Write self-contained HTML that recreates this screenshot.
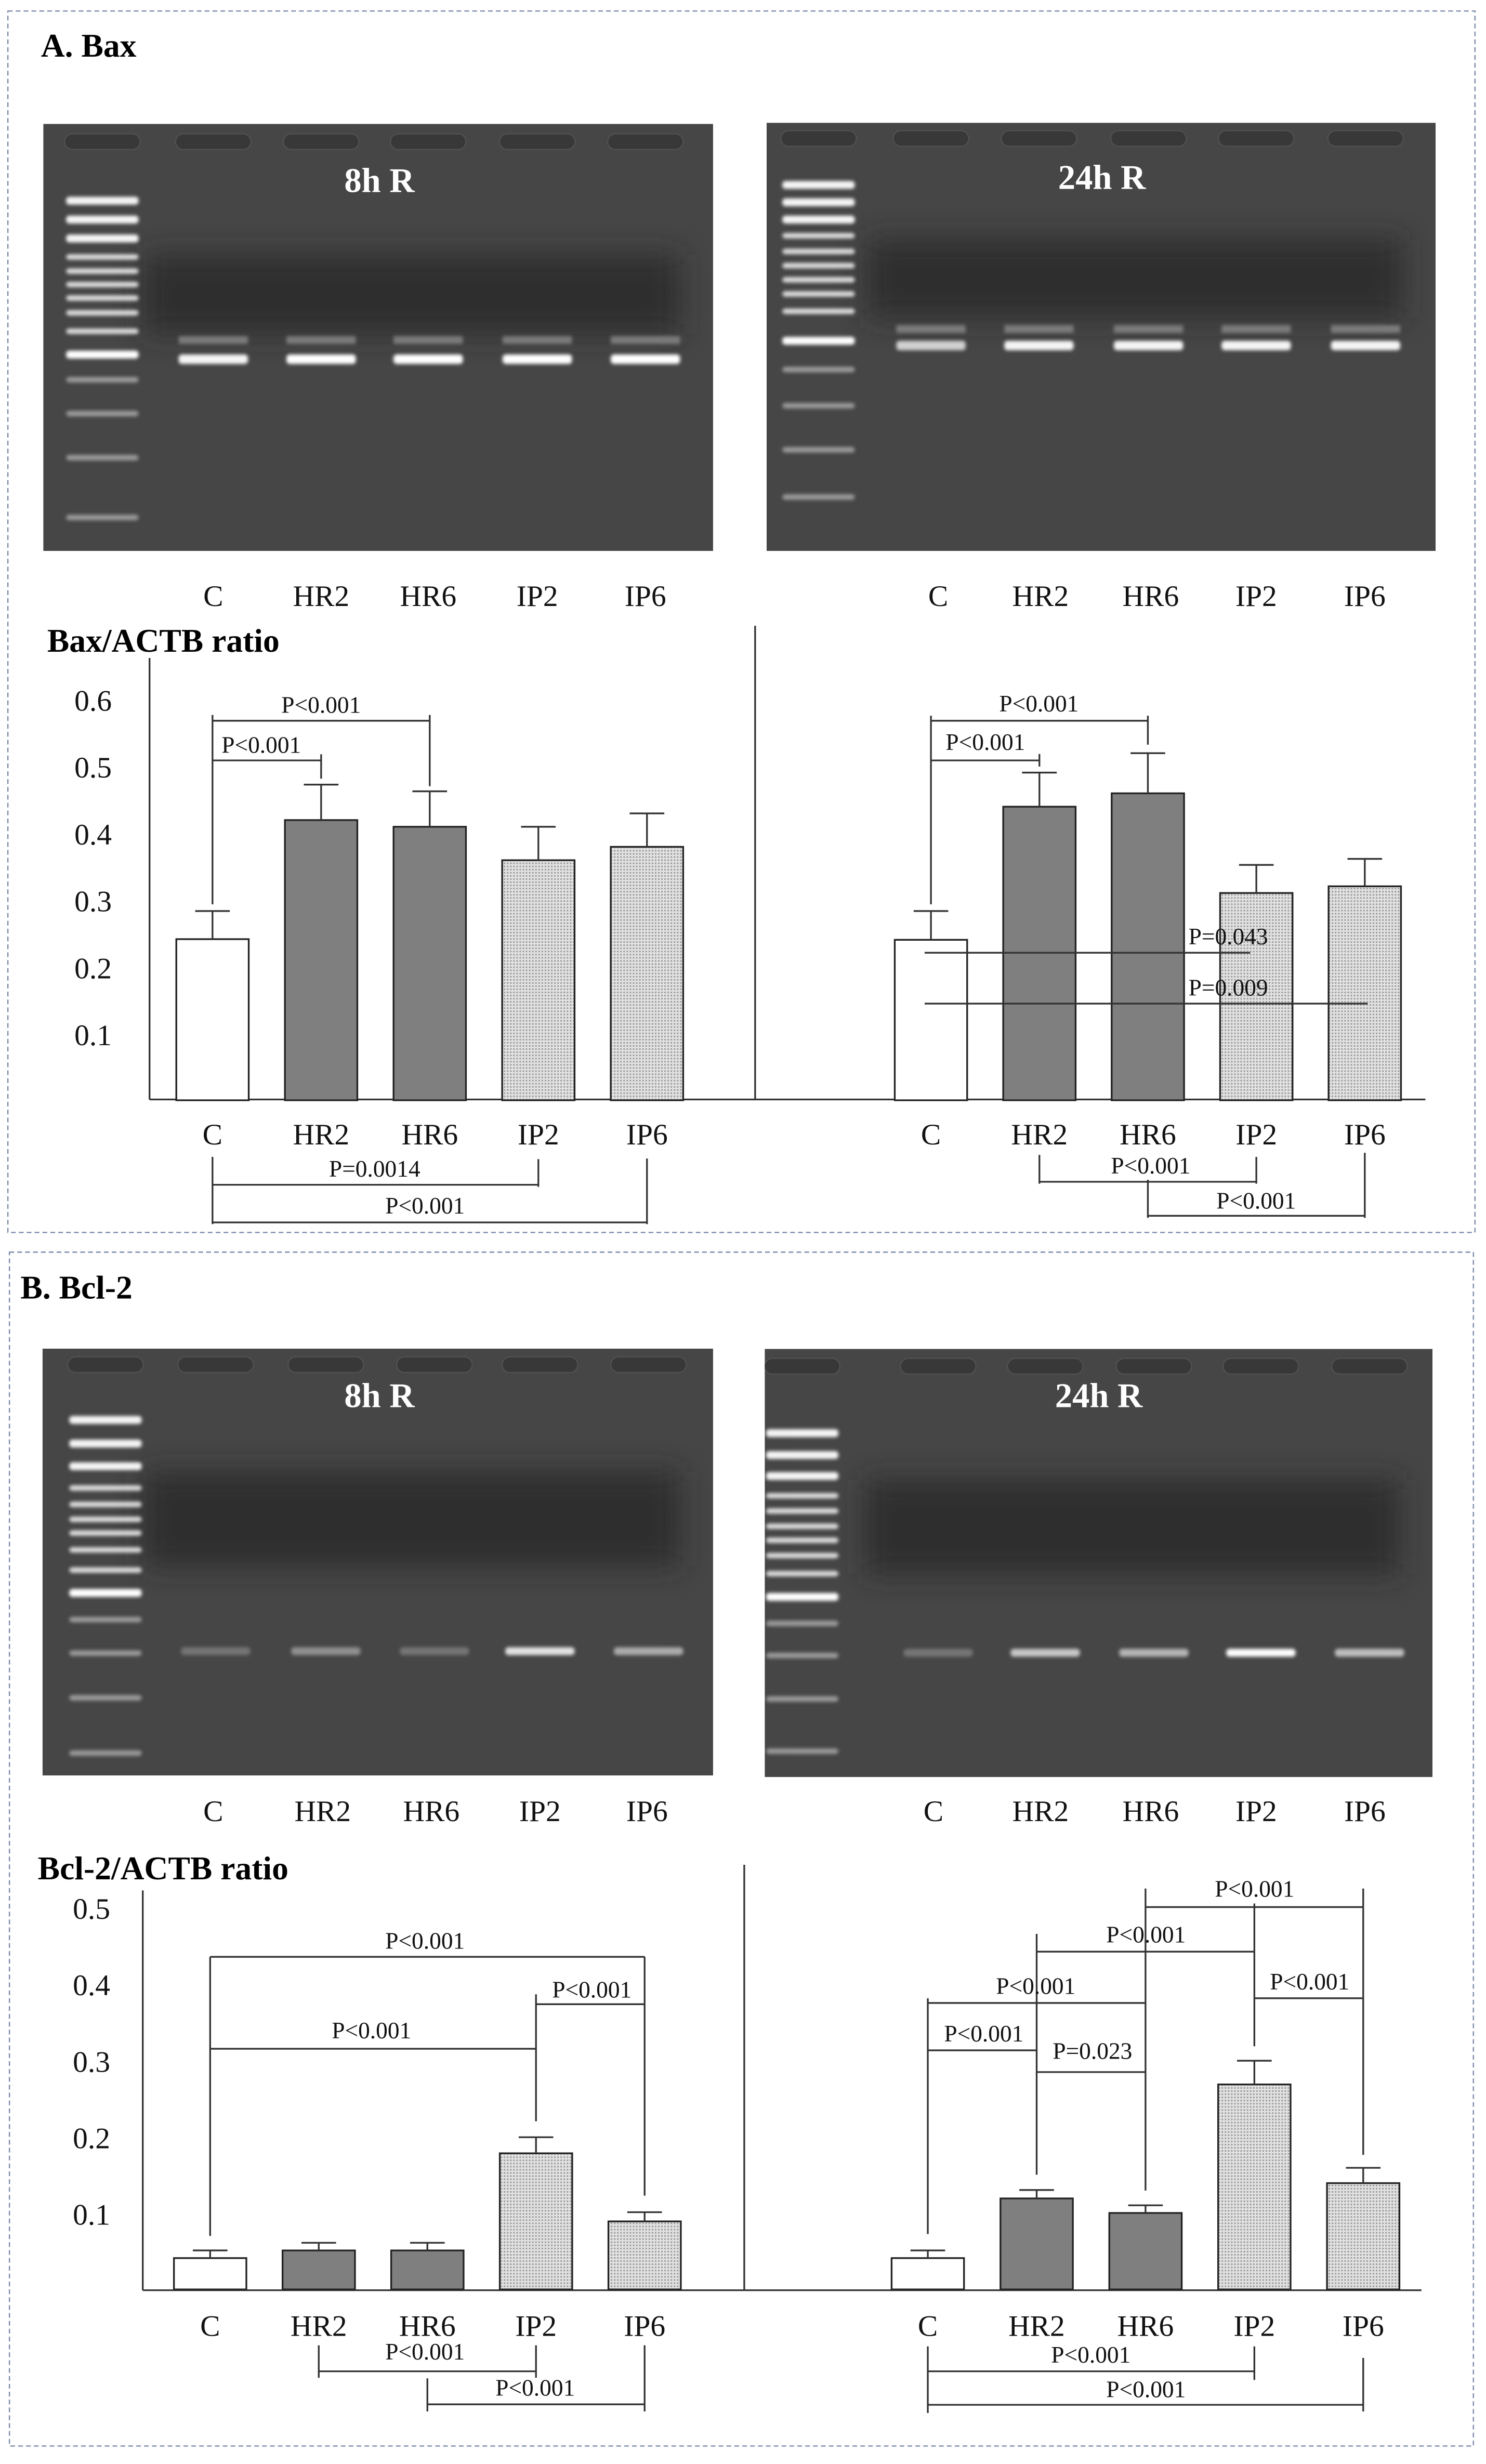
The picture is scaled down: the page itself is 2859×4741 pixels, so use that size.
<!DOCTYPE html>
<html><head><meta charset="utf-8">
<style>
html,body{margin:0;padding:0;background:#fff;}
svg{display:block;}
text{font-family:"Liberation Serif","Times New Roman",serif;}
</style></head>
<body>
<svg id="fig" xmlns="http://www.w3.org/2000/svg" width="2859" height="4741" viewBox="0 0 944 1565.4" preserveAspectRatio="none" font-family="Liberation Serif, serif">
<defs>
<filter id="blur1" x="-20%" y="-100%" width="140%" height="300%"><feGaussianBlur stdDeviation="1.1"/></filter>
<filter id="blur8" x="-20%" y="-50%" width="140%" height="200%"><feGaussianBlur stdDeviation="9"/></filter>
<pattern id="dots" width="2" height="2" patternUnits="userSpaceOnUse"><rect width="2" height="2" fill="#e2e2e2"/><rect width="1" height="1" fill="#9a9a9a"/></pattern>
</defs>
<rect x="0" y="0" width="944" height="1565.4" fill="#fff"/>
<rect x="5" y="7" width="932" height="776" fill="none" stroke="#7d8cab" stroke-width="0.8" stroke-dasharray="3,2"/>
<rect x="6" y="795.5" width="930" height="758.5" fill="none" stroke="#7d8cab" stroke-width="0.8" stroke-dasharray="3,2"/>
<text x="26" y="36" font-size="21" font-weight="bold" font-family="Liberation Serif, serif">A. Bax</text>
<text x="13" y="825" font-size="21" font-weight="bold" font-family="Liberation Serif, serif">B. Bcl-2</text>
<text x="30" y="414" font-size="21" font-weight="bold" font-family="Liberation Serif, serif">Bax/ACTB ratio</text>
<text x="24" y="1194" font-size="21" font-weight="bold" font-family="Liberation Serif, serif">Bcl-2/ACTB ratio</text>
<g id="gels"></g>
<g id="charts"></g>
</svg>
<script>
// ---------- chart data ----------
const categories = ["C","HR2","HR6","IP2","IP6"];
const baxTicks = [0.1,0.2,0.3,0.4,0.5,0.6];
const bclTicks = [0.1,0.2,0.3,0.4,0.5];
const bax8Values = [0.242,0.42,0.41,0.36,0.38];
const bax8Errors = [0.284,0.473,0.463,0.41,0.43];
const bax24Values = [0.241,0.44,0.46,0.311,0.321];
const bax24Errors = [0.284,0.491,0.52,0.353,0.362];
const bcl8Values = [0.042,0.052,0.052,0.179,0.09];
const bcl8Errors = [0.052,0.062,0.062,0.20,0.102];
const bcl24Values = [0.042,0.12,0.101,0.269,0.14];
const bcl24Errors = [0.052,0.131,0.111,0.30,0.16];

const NS="http://www.w3.org/2000/svg";
const fig=document.getElementById('fig');
const charts=document.getElementById('charts');
const gels=document.getElementById('gels');
const defs=fig.querySelector('defs');
function mk(tag,attrs,parent){const e=document.createElementNS(NS,tag);for(const k in attrs)e.setAttribute(k,attrs[k]);(parent||charts).appendChild(e);return e;}

const fills=["#ffffff","#7f7f7f","#7f7f7f","url(#dots)","url(#dots)"];

function yA(v){return 699.5-425*v;}
function yB(v){return 1455-486*v;}
function xAL(i){return 135+69*i;}
function xAR(i){return 591.4+68.9*i;}
function xBL(i){return 133.5+69*i;}
function xBR(i){return 589.4+69.15*i;}

function line(x1,y1,x2,y2,name){
  const l=mk('line',{x1:x1,y1:y1,x2:x2,y2:y2,stroke:'#333','stroke-width':1.1});
  
  
  return l;
}
function txt(x,y,s,size,name,anchor){
  const t=mk('text',{x:x,y:y,'font-size':size,'text-anchor':anchor||'middle',fill:'#111','font-family':'Liberation Serif, serif'});
  t.textContent=s;
  
  
  return t;
}
function bars(vals,errs,xf,yf,prefix){
  vals.forEach((v,i)=>{
    const cx=xf(i), top=yf(v), base=yf(0)-0.5;
    const r=mk('rect',{x:cx-23,y:top,width:46,height:base-top,fill:fills[i],stroke:'#222','stroke-width':1.1});
    
    
    const et=yf(errs[i]);
    line(cx,top,cx,et,prefix+'-error-'+categories[i].toLowerCase());
    line(cx-11,et,cx+11,et,prefix+'-error-cap-'+categories[i].toLowerCase());
  });
}
function catLabels(xf,y,prefix){
  categories.forEach((c,i)=>{txt(xf(i),y,c,19,prefix+'-label-'+c.toLowerCase());});
}
function bracket(xf,i,j,y,vi,vj,label,ly,lx,name){
  line(xf(i),y,xf(j),y,name+'-line');
  line(xf(i),vi[0],xf(i),vi[1],name+'-left');
  line(xf(j),vj[0],xf(j),vj[1],name+'-right');
  txt(lx!==undefined?lx:(xf(i)+xf(j))/2,ly,label,15,name+'-label');
}

// ---------- Panel A charts ----------
line(95,418,95,698.5,'bax-y-axis');
line(95,698.5,905.5,698.5,'bax-x-axis');
line(479.7,397.6,479.7,698.5,'bax-divider');
baxTicks.forEach(t=>txt(71,yA(t)+7,t.toFixed(1),19,'bax-tick-'+t,'end'));
bars(bax8Values,bax8Errors,xAL,yA,'bax8');
bars(bax24Values,bax24Errors,xAR,yA,'bax24');
catLabels(xAL,727,'bax8');
catLabels(xAR,727,'bax24');
bracket(xAL,0,2,457.9,[454.2,574.5],[454.2,499.5],'P<0.001',452.8,undefined,'bax8-c-hr6');
bracket(xAL,0,1,483.1,[483.1,483.1],[479.2,494.7],'P<0.001',478.3,166,'bax8-c-hr2');
bracket(xAL,0,3,752.7,[735,777.7],[736.4,754],'P=0.0014',747.6,238,'bax8-c-ip2');
bracket(xAL,0,4,776.6,[776.6,776.6],[736,777.7],'P<0.001',771,270,'bax8-c-ip6');
bracket(xAR,0,2,457.9,[454.7,574.5],[454.7,473.1],'P<0.001',452,660,'bax24-c-hr6');
bracket(xAR,0,1,483.1,[483.1,483.1],[479,487],'P<0.001',476.5,626,'bax24-c-hr2');
line(587.4,605.3,794.2,605.3,'bax24-c-ip2-line');
txt(755,600,'P=0.043',15,'bax24-c-ip2-label','start');
line(587.4,637.6,868.8,637.6,'bax24-c-ip6-line');
txt(755,632.5,'P=0.009',15,'bax24-c-ip6-label','start');
bracket(xAR,1,3,750.8,[733.7,752],[735,752],'P<0.001',745.5,731,'bax24-hr2-ip2');
bracket(xAR,2,4,772.4,[749.5,773.7],[732.4,773.7],'P<0.001',767.8,798,'bax24-hr6-ip6');

// ---------- Panel B charts ----------
line(90.7,1201,90.7,1455,'bcl-y-axis');
line(90.7,1455,903,1455,'bcl-x-axis');
line(472.8,1184.7,472.8,1455,'bcl-divider');
bclTicks.forEach(t=>txt(70,yB(t)+7,t.toFixed(1),19,'bcl-tick-'+t,'end'));
bars(bcl8Values,bcl8Errors,xBL,yB,'bcl8');
bars(bcl24Values,bcl24Errors,xBR,yB,'bcl24');
catLabels(xBL,1484,'bcl8');
catLabels(xBR,1484,'bcl24');
bracket(xBL,0,4,1243.2,[1243.2,1420.5],[1243.2,1394.9],'P<0.001',1238,270,'bcl8-c-ip6');
bracket(xBL,3,4,1273.3,[1267,1347.7],[1273.3,1273.3],'P<0.001',1269,376,'bcl8-ip2-ip6');
bracket(xBL,0,3,1301.6,[1301.6,1301.6],[1301.6,1301.6],'P<0.001',1295,236,'bcl8-c-ip2');
bracket(xBL,1,3,1506.5,[1490,1510.6],[1490,1510.6],'P<0.001',1499,270,'bcl8-hr2-ip2');
bracket(xBL,2,4,1527.5,[1511,1532],[1490,1532],'P<0.001',1522,340,'bcl8-hr6-ip6');
bracket(xBR,2,4,1211.6,[1199.8,1391.7],[1199.8,1369],'P<0.001',1205,797,'bcl24-hr6-ip6');
bracket(xBR,1,3,1239.9,[1228.6,1381.6],[1209.3,1300],'P<0.001',1234,728,'bcl24-hr2-ip2');
bracket(xBR,0,2,1272.5,[1269.5,1419.3],[1272.5,1272.5],'P<0.001',1266.7,658,'bcl24-c-hr6');
bracket(xBR,0,1,1302.6,[1302.6,1302.6],[1302.6,1302.6],'P<0.001',1297,625,'bcl24-c-hr2');
bracket(xBR,1,2,1316.4,[1316.4,1316.4],[1316.4,1316.4],'P=0.023',1308,694,'bcl24-hr2-hr6');
bracket(xBR,3,4,1269.5,[1269.5,1269.5],[1269.5,1269.5],'P<0.001',1264,832,'bcl24-ip2-ip6');
bracket(xBR,0,3,1506.5,[1490.7,1533],[1490.7,1512],'P<0.001',1501,693,'bcl24-c-ip2');
bracket(xBR,0,4,1527.8,[1527.8,1527.8],[1498,1532],'P<0.001',1523,728,'bcl24-c-ip6');

// ---------- gels (decorative images) ----------
let gid=0;
function gel(o){
  gid++;
  const cp=mk('clipPath',{id:'gclip'+gid},defs);
  mk('rect',{x:o.x,y:o.y,width:o.w,height:o.h},cp);
  const g=mk('g',{'clip-path':'url(#gclip'+gid+')'},gels);
  
  
  mk('rect',{x:o.x,y:o.y,width:o.w,height:o.h,fill:'#464646'},g);
  mk('rect',{x:o.x+o.w*0.15,y:o.smear[0],width:o.w*0.8,height:o.smear[1]-o.smear[0],fill:'#262626',opacity:0.75,filter:'url(#blur8)'},g);
  const wellXs=[o.ladX].concat(o.lanes);
  wellXs.forEach(cx=>{mk('rect',{x:cx-24,y:o.wellY-5,width:48,height:10,rx:5,fill:'#383838',stroke:'#505050','stroke-width':0.8},g);});
  o.ladder.forEach((ly,k)=>{
    const br=(k===o.ladBright)?1:(k<3?0.95:(k<10?0.8:0.45));
    mk('rect',{x:o.ladX-23,y:ly-2,width:46,height:k<3||k===o.ladBright?5:3.5,rx:2,fill:'#fff',opacity:br,filter:'url(#blur1)'},g);
  });
  o.lanes.forEach((cx,i)=>{
    if(o.upper) mk('rect',{x:cx-22,y:o.upper-2.5,width:44,height:5,fill:'#aaa',opacity:0.55,filter:'url(#blur1)'},g);
    mk('rect',{x:cx-22,y:o.bandY-2.5,width:44,height:o.bandH,rx:2,fill:'#fff',opacity:o.int[i],filter:'url(#blur1)'},g);
  });
  const t=mk('text',{x:o.tx,y:o.ty,'font-size':22,'font-weight':'bold',fill:'#fff','text-anchor':'middle','font-family':'Liberation Serif, serif'},g);
  t.textContent=o.title;
  
  
}
gel({name:'gel-bax-8h',x:27.5,y:78.7,w:425.5,h:271.3,smear:[162,212],wellY:90,ladX:65,
  ladder:[127,139,151,163.5,172.5,181,189.6,199,210.7,224.8,241.5,263,291,329],ladBright:9,
  lanes:[135.5,204,272,341.3,410],upper:216,bandY:227.7,bandH:6,int:[0.95,1,1,1,1],title:'8h R',tx:241,ty:122});
gel({name:'gel-bax-24h',x:487,y:78,w:425,h:272,smear:[152,202],wellY:88,ladX:520,
  ladder:[117,128,139,150,160,169,178,187,198,216,235,258,286,316],ladBright:9,
  lanes:[591.4,660,729.6,798,867.5],upper:209,bandY:219,bandH:6,int:[0.75,0.95,0.95,0.95,0.95],title:'24h R',tx:700,ty:120});
gel({name:'gel-bcl2-8h',x:27,y:856.8,w:426,h:271.2,smear:[935,995],wellY:867,ladX:67,
  ladder:[901.6,916.6,931,945.6,956,965.5,974.2,984.9,997.7,1011.5,1029.2,1050.5,1078.9,1114],ladBright:9,
  lanes:[137,207,276,343,412],upper:0,bandY:1049,bandH:5,int:[0.25,0.4,0.25,0.85,0.55],title:'8h R',tx:241,ty:894});
gel({name:'gel-bcl2-24h',x:485.8,y:857,w:424.2,h:272,smear:[940,1000],wellY:868,ladX:509.6,
  ladder:[910,923.9,937.2,950.5,960.2,969.9,978.8,988.5,1000,1014,1031.6,1052,1079.6,1112.8],ladBright:9,
  lanes:[596,664,733,801,870],upper:0,bandY:1050,bandH:5,int:[0.25,0.7,0.6,1,0.65],title:'24h R',tx:698,ty:894});
[[135.5,204,272,341.3,410,378,'bax8-gel'],[596,661,731,798,867,378,'bax24-gel'],[135.5,205,274,343,411,1150,'bcl8-gel'],[593,661,731,798,867,1150,'bcl24-gel']].forEach(r=>{
  categories.forEach((c,i)=>{txt(r[i],r[5]+7,c,19,r[6]+'-lane-'+c.toLowerCase());});
});
</script>
</body></html>
